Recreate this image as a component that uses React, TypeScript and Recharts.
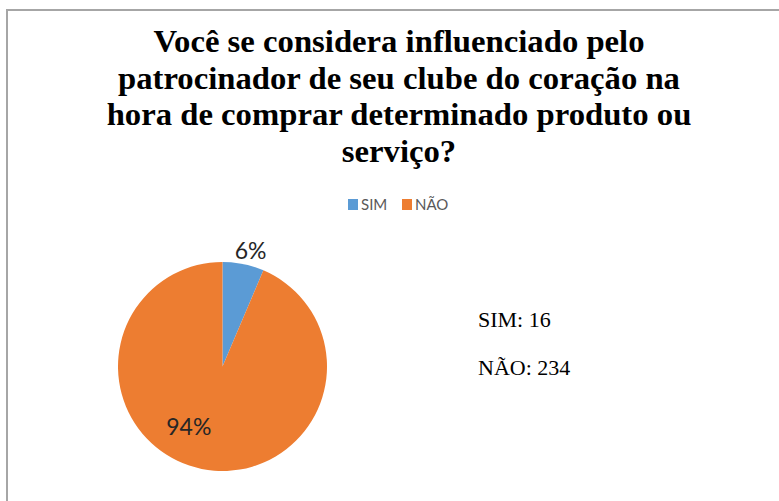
import React from "react";
import { PieChart, Pie, Cell } from "recharts";

const categories = ["SIM", "NÃO"];
const counts = [16, 234];
const colors = ["#5B9BD5", "#ED7D31"];
const titleLines = [
  "Você se considera influenciado pelo",
  "patrocinador de seu clube do coração na",
  "hora de comprar determinado produto ou",
  "serviço?",
];
const percentLabels = ["6%", "94%"];

const data = categories.map((name, i) => ({ name, value: counts[i] }));

const RAD = Math.PI / 180;
const labelRadiusFactor = [1.15, 0.655];
const labelAngleOffset = [-2, -18];

const renderLabel = (props: any) => {
  const { cx, cy, midAngle, outerRadius, index } = props;
  const r = outerRadius * labelRadiusFactor[index];
  const a = (midAngle + labelAngleOffset[index]) * RAD;
  const x = cx + r * Math.cos(a);
  const y = cy - r * Math.sin(a);
  return (
    <text
      x={x}
      y={y}
      textAnchor="middle"
      dominantBaseline="central"
      fontFamily="Lato, 'Open Sans', sans-serif"
      fontSize={23}
      fill="#262626"
    >
      {percentLabels[index]}
    </text>
  );
};

export default function App() {
  return (
    <div
      style={{
        position: "absolute",
        left: 0,
        top: 0,
        width: 779,
        height: 501,
        overflow: "hidden",
        background: "#fff",
      }}
    >
      <div
        style={{
          position: "absolute",
          left: 6,
          top: 9,
          width: 820,
          height: 600,
          border: "2px solid #a6a6a6",
        }}
      />
      <div style={{ position: "absolute", left: 0, top: 0 }}>
        <PieChart width={779} height={501} margin={{ top: 0, right: 0, bottom: 0, left: 0 }}>
          <Pie
            data={data}
            dataKey="value"
            nameKey="name"
            cx={222.5}
            cy={366.5}
            outerRadius={104.5}
            startAngle={90}
            endAngle={-270}
            stroke="none"
            label={renderLabel}
            labelLine={false}
            isAnimationActive={false}
          >
            {data.map((d, i) => (
              <Cell key={d.name} fill={colors[i]} />
            ))}
          </Pie>
        </PieChart>
      </div>
      <svg
        width={779}
        height={501}
        style={{ position: "absolute", left: 0, top: 0, pointerEvents: "none" }}
      >
        <g transform="translate(399,0) scale(1.055,1) translate(-399,0)">
          {titleLines.map((t, i) => (
            <text
              key={i}
              x={399}
              y={52 + i * 36.7}
              textAnchor="middle"
              fontFamily="'Liberation Serif', 'Times New Roman', serif"
              fontWeight="bold"
              fontSize={31}
              fill="#000"
            >
              {t}
            </text>
          ))}
        </g>
        {data.map((d, i) => (
          <g key={"lg" + d.name}>
            <rect x={348 + i * 54} y={199} width={10} height={11} fill={colors[i]} />
            <text
              x={361 + i * 54}
              y={209.5}
              fontFamily="Lato, 'Open Sans', sans-serif"
              fontSize={15}
              fill="#595959"
            >
              {d.name}
            </text>
          </g>
        ))}
        {data.map((d, i) => (
          <text
            key={d.name}
            x={478}
            y={327 + i * 48}
            fontFamily="'Liberation Serif', 'Times New Roman', serif"
            fontSize={22}
            fill="#000"
          >
            {`${d.name}: ${d.value}`}
          </text>
        ))}
      </svg>
    </div>
  );
}
